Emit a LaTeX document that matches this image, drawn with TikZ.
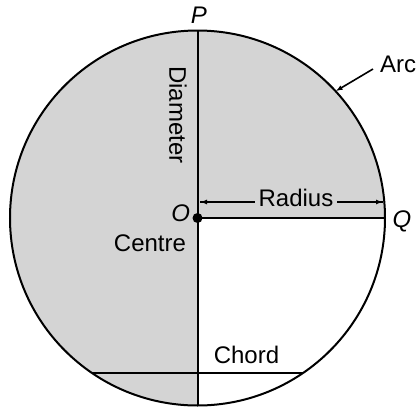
\documentclass[tikz,border=0pt]{standalone}
\usepackage{fontspec}
\setmainfont{Liberation Sans}
\usetikzlibrary{arrows.meta}
\definecolor{areagray}{RGB}{212,212,212}
\begin{document}
\begin{tikzpicture}[x=1pt,y=-1pt, line width=2pt,
  lbl/.style={font=\fontsize{24}{28}\selectfont, inner sep=0pt},
  ilbl/.style={font=\fontsize{24}{28}\selectfont\itshape, inner sep=0pt},
  tip/.style={-{Latex[length=7pt,width=5pt]}}]
\useasboundingbox (0,0) rectangle (416,408);
\coordinate (O) at (197.5,218);
\coordinate (Ptop) at (197.5,30.5);
\coordinate (Pbot) at (197.5,405.5);
\coordinate (Q) at (385,218);
\coordinate (CL) at (92,373);
\coordinate (CR) at (303,373);
\coordinate (RL) at (200,202);
\coordinate (RR) at (383,202);
\coordinate (arcpt) at (335.6,91.2);
\coordinate (arcend) at (373,69);
% shading
\fill[areagray] (O) circle (187.5pt);
\begin{scope}
  \clip (O) rectangle (400,410);
  \fill[white] (O) circle (187.5pt);
\end{scope}
% outline and lines
\draw (O) circle (187.5pt);
\draw (Ptop) -- (Pbot);
\draw (O) -- (Q);
\draw (CL) -- (CR);
\fill (O) circle (5pt);
% radius arrow
\draw[tip, line width=1.6pt] (RL) -- (RR);
\draw[tip, line width=1.6pt] (RR) -- (RL);
\node[lbl, fill=areagray, inner xsep=4pt, inner ysep=2pt] (rad) at (296,198) {Radius};
% arc pointer
\draw[tip, line width=1.6pt] (arcend) -- (arcpt);
% labels
\node[ilbl] (Plbl) at (199,15) {P};
\node[ilbl] (Qlbl) at (402,221) {Q};
\node[ilbl, anchor=east] (Olbl) at (191,213) {O};
\node[lbl, anchor=east] (cen) at (187,243) {Centre};
\node[lbl, rotate=-90] (dia) at (178,115) {Diameter};
\node[lbl] (chord) at (246.5,355) {Chord};
\node[lbl, anchor=west] (arc) at (379,64) {Arc};
\end{tikzpicture}
\end{document}
